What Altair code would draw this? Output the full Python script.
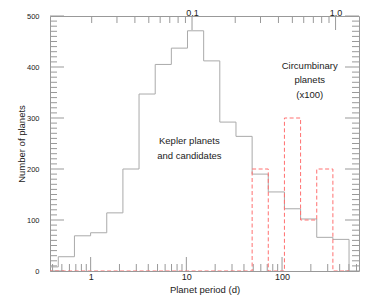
import altair as alt
import pandas as pd

# ---- data ----
period_edges = [0.311, 0.459, 0.677, 0.999, 1.473, 2.173, 3.204, 4.727, 6.971, 10.28,
                15.17, 22.37, 33.00, 48.68, 71.78, 105.9, 156.2, 230.4, 339.8, 501.2]
kepler_counts = [8, 28, 69, 75, 114, 200, 347, 405, 437, 471,
                 412, 292, 264, 190, 155, 122, 102, 66, 62, 0]
circumbinary_x100 = [0, 0, 0, 0, 0, 0, 0, 0, 0, 0,
                     0, 0, 0, 200, 0, 300, 100, 200, 0, 0]

period_major = [1, 10, 100]
period_minor = [0.4, 0.5, 0.6, 0.7, 0.8, 0.9, 2, 3, 4, 5, 6, 7, 8, 9,
                20, 30, 40, 50, 60, 70, 80, 90, 200, 300, 400, 500, 600]
count_major = [0, 100, 200, 300, 400, 500]
count_minor = [v for v in range(10, 500, 10) if v % 100 != 0]
au_major = [0.1, 1.0]
au_minor = [0.02, 0.03, 0.04, 0.05, 0.06, 0.07, 0.08, 0.09,
            0.2, 0.3, 0.4, 0.5, 0.6, 0.7, 0.8, 0.9]

annotation_text = ["Kepler planets\nand candidates", "Circumbinary\nplanets\n(x100)"]
annotation_period = [10.75, 194.5]
annotation_count = [249, 397]

period_domain = [0.376, 637]
au_domain = [0.01025, 1.456]
count_domain = [0, 500]

# ---- styling ----
W, H = 309, 255
FRAME = "#999999"
TICK = "#999999"
HIST = "#aaaaaa"
RED = "#ff7070"
TXT = "#222222"
FONT = "Liberation Sans"

pscale = alt.Scale(type="log", domain=period_domain, nice=False)
ascale = alt.Scale(type="log", domain=au_domain, nice=False)
yscale = alt.Scale(domain=count_domain, nice=False, zero=False)

x_axis = alt.Axis(values=period_major, format="d", title="Planet period (d)",
                  ticks=False, tickSize=0, domain=False, grid=False,
                  labelPadding=1, labelFontSize=9, titleFontSize=9.5,
                  titlePadding=3, labelFlush=False, labelOverlap=False)
y_axis = alt.Axis(values=count_major, title="Number of planets",
                  ticks=False, tickSize=0, domain=False, grid=False,
                  labelPadding=11, labelFontSize=7.5, titleFontSize=9.5,
                  titlePadding=0, labelFlush=False, labelOverlap=False)
top_axis = alt.Axis(orient="top", values=au_major, format=".1f",
                    title="Semimajor axis (a.u.)", ticks=False, tickSize=0,
                    domain=False, grid=False, labelPadding=-1, labelFontSize=9,
                    titleFontSize=6.5, titlePadding=2, labelFlush=False,
                    labelOverlap=False)

def X(field="period"):
    return alt.X(f"{field}:Q", scale=pscale, axis=x_axis)

def Y(field="count"):
    return alt.Y(f"{field}:Q", scale=yscale, axis=y_axis)

hist_df = pd.DataFrame({"period": period_edges, "count": kepler_counts})
cb_df = pd.DataFrame({"period": period_edges, "count": circumbinary_x100})

kepler = alt.Chart(hist_df).mark_line(
    interpolate="step-after", color=HIST, strokeWidth=1, clip=True
).encode(x=X(), y=Y())

circ = alt.Chart(cb_df).mark_line(
    interpolate="step-after", color=RED, strokeWidth=1, strokeDash=[4, 2.5], clip=True
).encode(x=X(), y=Y())

# inward ticks
pmaj = pd.DataFrame({"period": period_major})
pmin = pd.DataFrame({"period": period_minor})
cmaj = pd.DataFrame({"count": count_major})
cmin = pd.DataFrame({"count": count_minor})

bot_major = alt.Chart(pmaj).mark_rule(color=TICK).encode(
    x=X(), y=alt.value(H), y2=alt.value(H - 14))
bot_minor = alt.Chart(pmin).mark_rule(color=TICK).encode(
    x=X(), y=alt.value(H), y2=alt.value(H - 7))
left_major = alt.Chart(cmaj).mark_rule(color=TICK).encode(
    y=Y(), x=alt.value(0), x2=alt.value(14))
left_minor = alt.Chart(cmin).mark_rule(color=TICK).encode(
    y=Y(), x=alt.value(0), x2=alt.value(7))
right_major = alt.Chart(cmaj).mark_rule(color=TICK).encode(
    y=Y(), x=alt.value(W), x2=alt.value(W - 14))
right_minor = alt.Chart(cmin).mark_rule(color=TICK).encode(
    y=Y(), x=alt.value(W), x2=alt.value(W - 7))

ann_df = pd.DataFrame({"label": annotation_text, "period": annotation_period,
                       "count": annotation_count})
ann = alt.Chart(ann_df).mark_text(
    align="center", baseline="alphabetic", lineBreak="\n", lineHeight=14.5,
    fontSize=9.5, color=TXT, font=FONT
).encode(x=X(), y=Y(), text="label:N")

main = alt.layer(bot_minor, bot_major, left_minor, left_major,
                 right_minor, right_major, kepler, circ, ann)

amaj = pd.DataFrame({"au": au_major})
amin = pd.DataFrame({"au": au_minor})
top_major = alt.Chart(amaj).mark_rule(color=TICK).encode(
    x=alt.X("au:Q", scale=ascale, axis=top_axis), y=alt.value(0), y2=alt.value(14))
top_minor = alt.Chart(amin).mark_rule(color=TICK).encode(
    x=alt.X("au:Q", scale=ascale, axis=top_axis), y=alt.value(0), y2=alt.value(7))
top = alt.layer(top_minor, top_major)

chart = alt.layer(main, top).resolve_scale(x="independent").properties(
    width=W, height=H,
    padding={"left": 42, "top": 8, "right": 7, "bottom": 30},
    autosize=alt.AutoSizeParams(type="none"),
).configure(font=FONT).configure_view(
    stroke=FRAME, strokeWidth=1
).configure_axis(
    labelColor=TXT, titleColor=TXT, labelFont=FONT, titleFont=FONT,
    titleFontWeight="normal"
)

chart.save("out.html", embed_options={"renderer": "svg", "actions": False})
